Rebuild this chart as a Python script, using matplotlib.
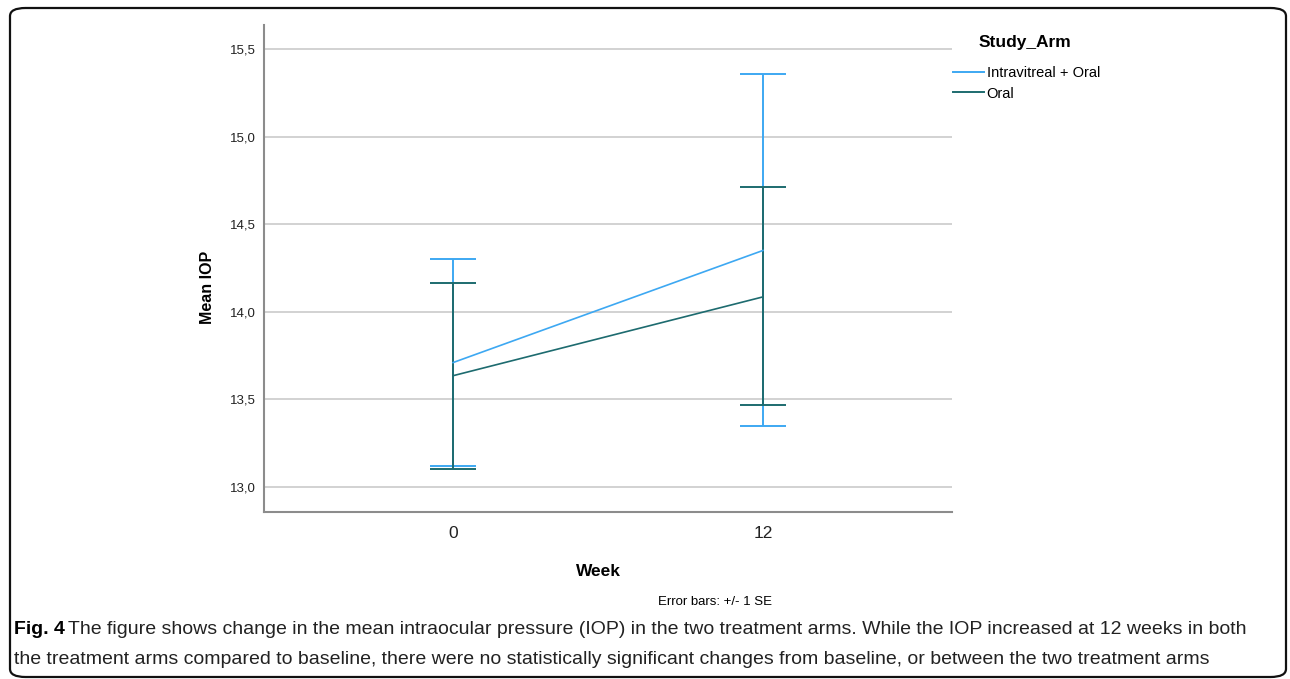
import matplotlib.pyplot as plt
from matplotlib.patches import FancyBboxPatch
from matplotlib.lines import Line2D

# data
weeks = ['0', '12']
arms = ['Intravitreal + Oral', 'Oral']
mean_iv = [13.71, 14.35]
lo_iv = [13.12, 13.35]
hi_iv = [14.30, 15.36]
mean_oral = [13.635, 14.085]
lo_oral = [13.105, 13.465]
hi_oral = [14.165, 14.715]
yticks = [13.0, 13.5, 14.0, 14.5, 15.0, 15.5]

W, H = 1290, 679
blue = '#3da8f2'
teal = '#1d6b6f'

plt.rcParams['font.family'] = ['Liberation Sans', 'DejaVu Sans']

fig = plt.figure(figsize=(W / 100, H / 100), dpi=100)

def fx(px):
    return px / W

def fy(py):
    return 1 - py / H

ax = fig.add_axes([fx(264), fy(512), fx(952) - fx(264), fy(25) - fy(512)])
ax.set_xlim(-0.61, 1.61)
ax.set_ylim(12.857, 15.637)

x = list(range(len(weeks)))
for m, lo, hi, c in [(mean_iv, lo_iv, hi_iv, blue), (mean_oral, lo_oral, hi_oral, teal)]:
    yerr = [[mi - l for mi, l in zip(m, lo)], [h - mi for mi, h in zip(m, hi)]]
    ax.errorbar(x, m, yerr=yerr, fmt='none', ecolor=c, elinewidth=1.4,
                capsize=16.5, capthick=1.4, zorder=3)
ax.plot(x, mean_iv, color=blue, lw=1.2, zorder=4)
ax.plot(x, mean_oral, color=teal, lw=1.2, zorder=4)

ax.set_yticks(yticks)
ax.set_yticklabels([('%.1f' % v).replace('.', ',') for v in yticks], fontsize=9.5, color='#222222')
ax.set_xticks(x)
ax.set_xticklabels(weeks, fontsize=12.5, color='#222222')
ax.tick_params(axis='both', length=0)
ax.tick_params(axis='y', pad=6)
ax.tick_params(axis='x', pad=10)
ax.grid(axis='y', color='#cfcfcf', lw=1.3, zorder=0)
for s in ['top', 'right']:
    ax.spines[s].set_visible(False)
for s in ['left', 'bottom']:
    ax.spines[s].set_color('#8c8c8c')
    ax.spines[s].set_linewidth(1.5)

fig.text(fx(207), fy(287), 'Mean IOP', rotation=90, fontsize=11.5, fontweight='bold',
         ha='center', va='center')
fig.text(fx(598), fy(571), 'Week', fontsize=12.5, fontweight='bold', ha='center', va='center')
fig.text(fx(715), fy(602), 'Error bars: +/- 1 SE', fontsize=9.5, ha='center', va='center')

# legend
fig.text(fx(979), fy(43), 'Study_Arm', fontsize=12.5, fontweight='bold', ha='left', va='center')
handles = [Line2D([], [], color=blue, lw=1.4), Line2D([], [], color=teal, lw=1.4)]
leg = fig.legend(handles=handles, labels=arms, loc='upper left',
                 bbox_to_anchor=(fx(953), fy(66)), frameon=False, fontsize=10.5,
                 handlelength=2.1, handletextpad=0.2, labelspacing=0.45, borderpad=0,
                 borderaxespad=0)

# caption
fig.text(fx(14), fy(630), 'Fig. 4', fontsize=14, fontweight='bold', ha='left', va='center')
fig.text(fx(68), fy(630), 'The figure shows change in the mean intraocular pressure (IOP) in the two treatment arms. '
         'While the IOP increased at 12 weeks in both', fontsize=14, ha='left', va='center',
         color='#222222')
fig.text(fx(14), fy(659), 'the treatment arms compared to baseline, there were no statistically significant changes '
         'from baseline, or between the two treatment arms', fontsize=14, ha='left', va='center',
         color='#222222')

box = FancyBboxPatch((fx(10), fy(677)), fx(1286) - fx(10), fy(8) - fy(677),
                     boxstyle='round,pad=0,rounding_size=0.012', transform=fig.transFigure,
                     fill=False, ec='#111111', lw=1.6)
fig.patches.append(box)

fig.savefig('out.png', dpi=100)
